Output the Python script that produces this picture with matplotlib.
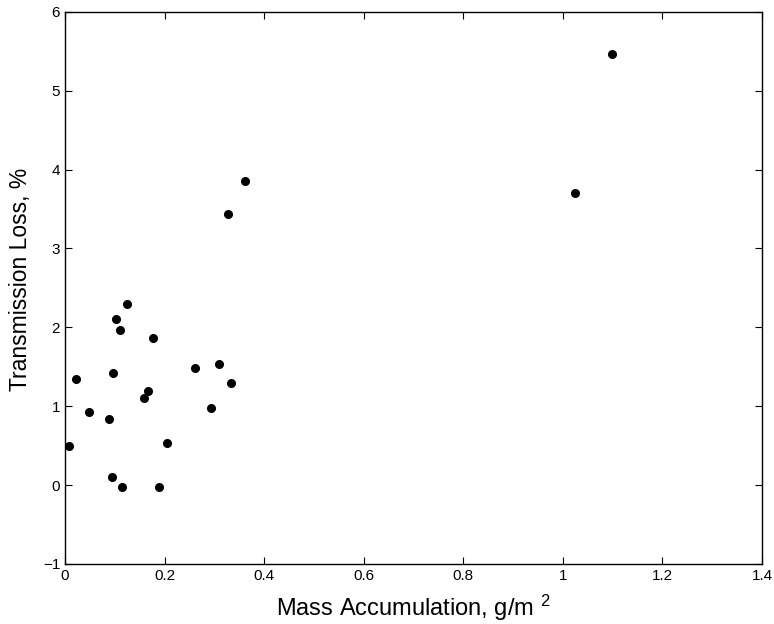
import matplotlib
matplotlib.use("Agg")
import matplotlib.pyplot as plt

mass = [0.007, 0.023, 0.048, 0.088, 0.096, 0.095, 0.114, 0.103, 0.110, 0.125,
        0.176, 0.158, 0.167, 0.205, 0.188, 0.261, 0.309, 0.294, 0.334,
        0.361, 0.328, 1.098, 1.025]
loss = [0.49, 1.34, 0.93, 0.84, 1.42, 0.10, -0.02, 2.11, 1.97, 2.29,
        1.87, 1.11, 1.19, 0.54, -0.03, 1.49, 1.54, 0.98, 1.30,
        3.86, 3.44, 5.46, 3.70]

xticks = [0, 0.2, 0.4, 0.6, 0.8, 1, 1.2, 1.4]
xticklabels = ["0", "0.2", "0.4", "0.6", "0.8", "1", "1.2", "1.4"]
yticks = [-1, 0, 1, 2, 3, 4, 5, 6]
yticklabels = ["\u22121", "0", "1", "2", "3", "4", "5", "6"]

plt.rcParams['font.family'] = ['Liberation Sans', 'DejaVu Sans']
plt.rcParams['mathtext.fontset'] = 'custom'
plt.rcParams['mathtext.rm'] = 'Liberation Sans'

fig = plt.figure(figsize=(7.74, 6.24), dpi=100)
ax = fig.add_axes([0.084, 0.0962, 0.9005, 0.8848])
ax.plot(mass, loss, 'o', color='black', markersize=5.5, linestyle='none')
ax.set_xlim(0, 1.4)
ax.set_ylim(-1, 6)
ax.set_xticks(xticks)
ax.set_xticklabels(xticklabels)
ax.set_yticks(yticks)
ax.set_yticklabels(yticklabels)
ax.tick_params(direction='in', top=True, right=True, labelsize=11, length=5, width=0.8)
for s in ax.spines.values():
    s.set_linewidth(1.0)
ax.set_xlabel("Mass Accumulation, g/m $\\mathregular{^{2}}$", fontsize=17)
ax.xaxis.set_label_coords(0.5, -0.052, transform=ax.transAxes)
ax.xaxis.label.set_va('top')
ax.set_ylabel("Transmission Loss, %", fontsize=16.5)
ax.yaxis.set_label_coords(-0.048, 0.515, transform=ax.transAxes)
fig.savefig("out.png", dpi=100)
